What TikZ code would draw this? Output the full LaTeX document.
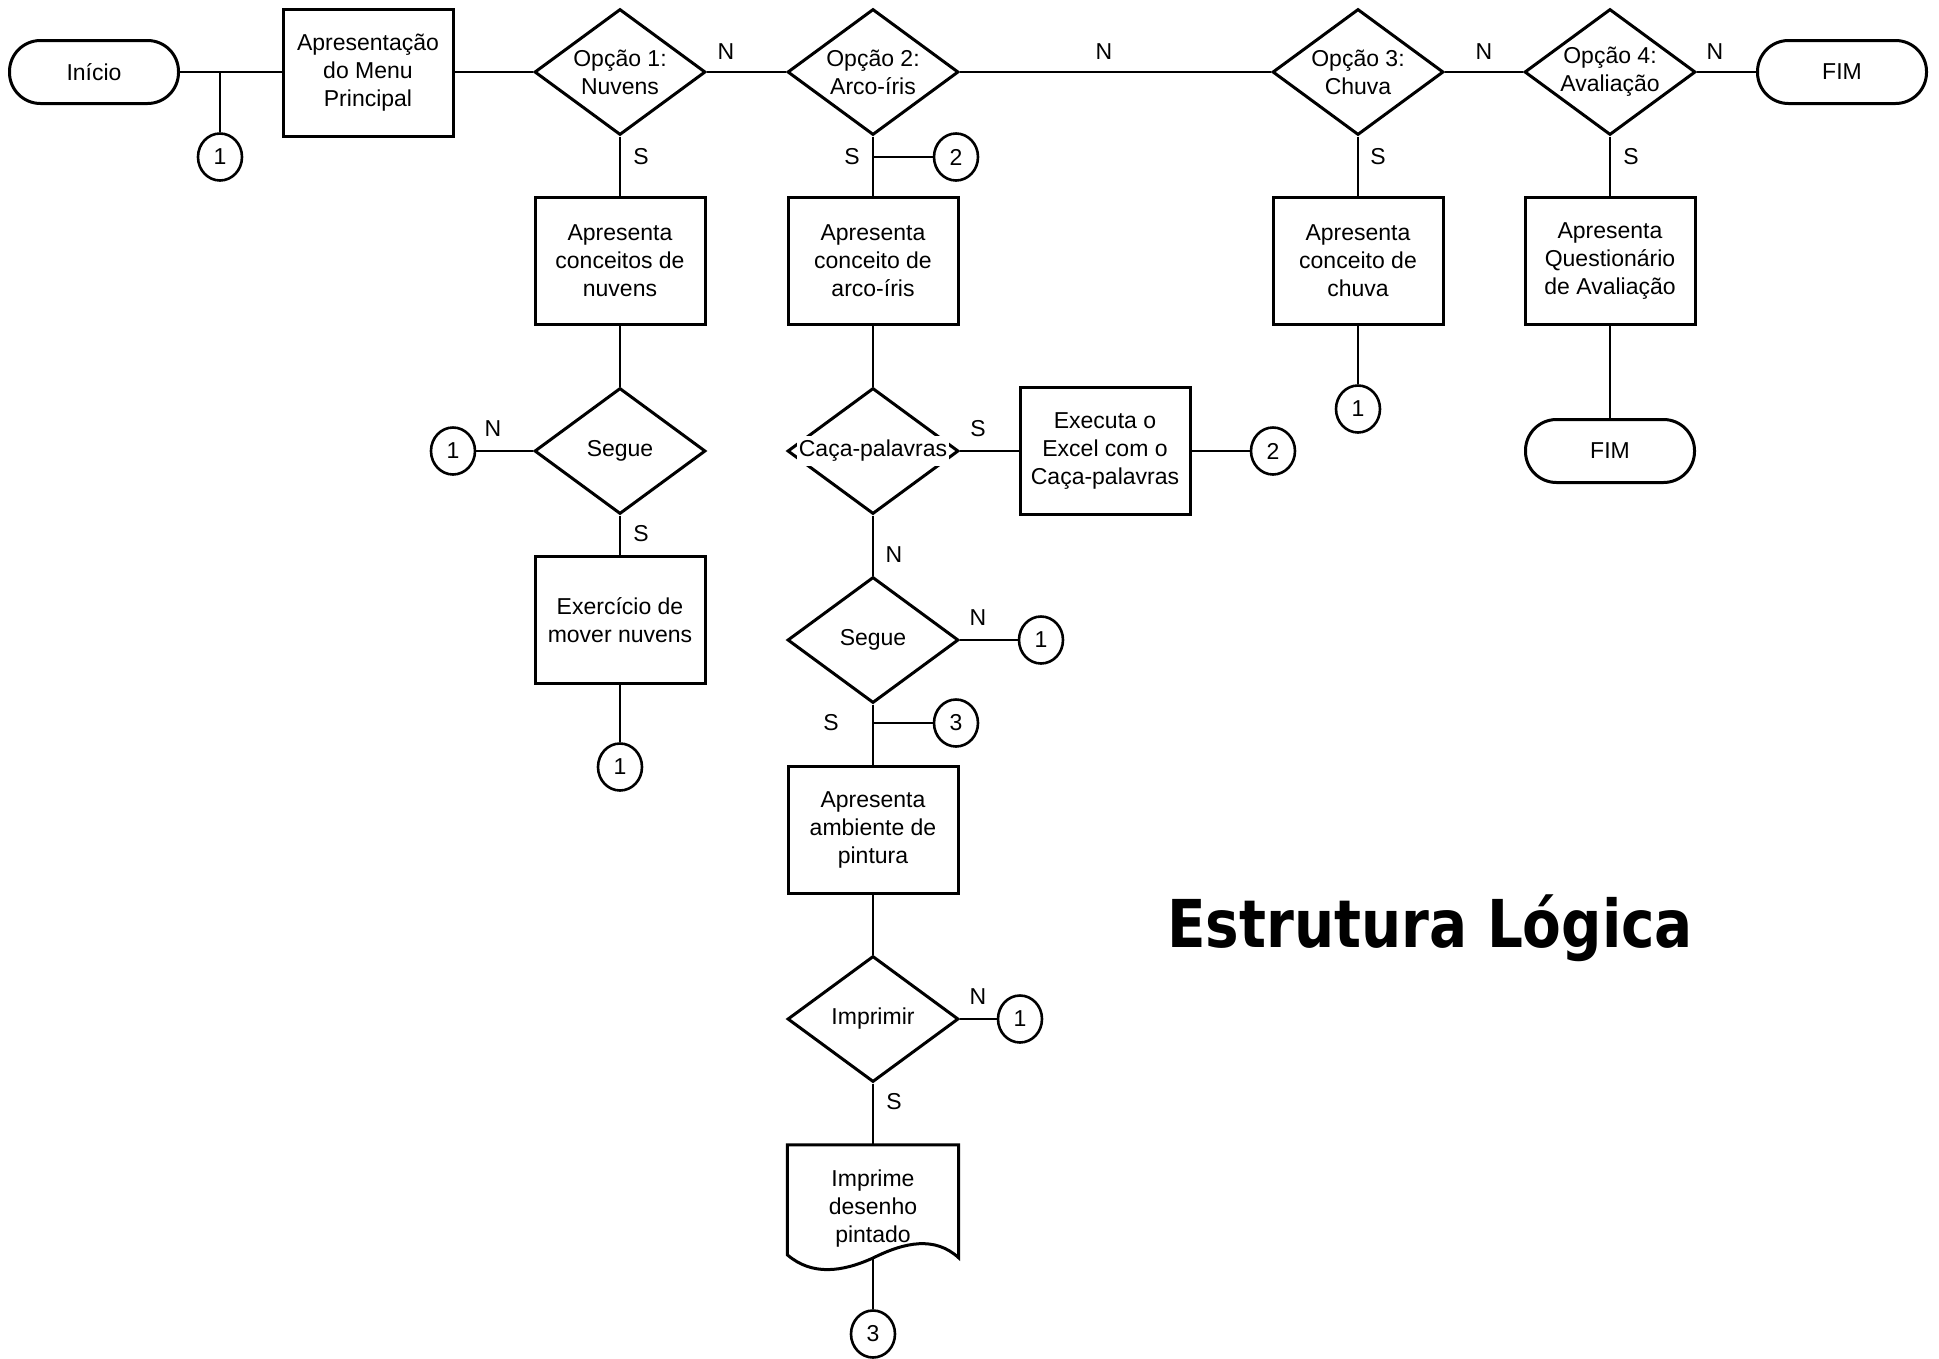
\documentclass[tikz,border=0pt]{standalone}
\usepackage{fontspec}
\setmainfont{Liberation Sans}
\newfontfamily\titlefont{DejaVu Sans}[FakeStretch=0.855]
\usetikzlibrary{shapes.geometric,calc}
\begin{document}
\begin{tikzpicture}[x=1pt,y=-1pt,font=\fontsize{23}{28}\selectfont,
  box/.style={draw, line width=3pt, minimum width=170pt, minimum height=127pt, align=center, inner sep=0pt},
  dia/.style={draw, diamond, line width=3pt, minimum width=171pt, minimum height=126pt, inner sep=0pt},
  term/.style={draw, rounded corners=31pt, line width=3pt, minimum width=169pt, minimum height=63pt, inner sep=0pt},
  conn/.style={draw, ellipse, line width=2.6pt, minimum width=44pt, minimum height=47pt, inner sep=0pt},
  txt/.style={align=center, inner sep=0pt},
  lbl/.style={inner sep=0pt},
  wire/.style={line width=1.3pt}]
\useasboundingbox (0,0) rectangle (1939,1358);
\fill[white] (0,0) rectangle (1939,1358);

% top row
\node[term] (ini) at (94,72) {Início};
\node[box] (menu) at (368,73) {Apresentação\\do Menu\\Principal};
\node[dia] (o1) at (620,72) {}; \node[txt] (o1t) at (o1) {Opção 1:\\Nuvens};
\node[dia] (o2) at (873,72) {}; \node[txt] (o2t) at (o2) {Opção 2:\\Arco-íris};
\node[dia] (o3) at (1358,72) {}; \node[txt] (o3t) at (o3) {Opção 3:\\Chuva};
\node[dia] (o4) at (1610,72) {}; \node[txt] (o4t) at (o4) {Opção 4:\\Avaliação};
\node[term] (fim1) at (1842,72) {FIM};
\coordinate (jn1) at (220,72);
\node[conn] (c1a) at (220,157) {1};

% second row
\node[box] (b1) at (620,261) {Apresenta\\conceitos de\\nuvens};
\node[box] (b2) at (873,261) {Apresenta\\conceito de\\arco-íris};
\node[box] (b3) at (1358,261) {Apresenta\\conceito de\\chuva};
\node[box] (b4) at (1610,261) {Apresenta\\Questionário\\de Avaliação\vphantom{p}};
\coordinate (jn2) at (873,157);
\node[conn] (c2a) at (956,157) {2};
\node[conn] (c1b) at (1358,409) {1};
\node[term] (fim2) at (1610,451) {FIM};

% third row
\node[dia] (sg1) at (620,451) {}; \node[txt] (sg1t) at (sg1) {Segue};
\node[conn] (c1c) at (453,451) {1};
\node[dia] (caca) at (873,451) {};
\node[txt, fill=white, inner xsep=2pt, inner ysep=4pt] (cacat) at (caca) {Caça-palavras};
\node[box] (exe) at (1105,451) {Executa o\\Excel com o\\Caça-palavras};
\node[conn] (c2b) at (1273,451) {2};

% column 1 lower
\node[box] (ex1) at (620,620) {Exercício de\\mover nuvens};
\node[conn] (c1d) at (620,767) {1};

% column 2 lower
\node[dia] (sg2) at (873,640) {}; \node[txt] (sg2t) at (sg2) {Segue};
\node[conn] (c1e) at (1041,640) {1};
\coordinate (jn3) at (873,723);
\node[conn] (c3a) at (956,723) {3};
\node[box] (pin) at (873,830) {Apresenta\\ambiente de\\pintura};
\node[dia] (impd) at (873,1019) {}; \node[txt] (impdt) at (impd) {Imprimir};
\node[conn] (c1f) at (1020,1019) {1};
\node[txt, minimum width=171pt, minimum height=126pt] (doc) at (873,1209) {Imprime\\desenho\\pintado};
\coordinate (impb) at (873,1258);
\draw[line width=3pt, line join=miter]
  ($(doc.north west)+(0,-1)$) -- ($(doc.north east)+(0,-1)$) -- ($(doc.north east)+(0,112)$)
  .. controls (935,1236) and (905,1242) .. (impb)
  .. controls (842,1272) and (812,1276) .. ($(doc.north west)+(0,109)$) -- cycle;
\node[conn] (c3b) at (873,1334) {3};

% labels
\node[lbl] (n1) at (726,52) {N};
\node[lbl] (n2) at (1104,52) {N};
\node[lbl] (n3) at (1484,52) {N};
\node[lbl] (n4) at (1715,52) {N};
\node[lbl] (s1) at (641,157) {S};
\node[lbl] (s2) at (852,157) {S};
\node[lbl] (s3) at (1378,157) {S};
\node[lbl] (s4) at (1631,157) {S};
\node[lbl] (n5) at (493,429) {N};
\node[lbl] (s5) at (978,429) {S};
\node[lbl] (s6) at (641,534) {S};
\node[lbl] (n6) at (894,555) {N};
\node[lbl] (n7) at (978,618) {N};
\node[lbl] (s7) at (831,723) {S};
\node[lbl] (n8) at (978,997) {N};
\node[lbl] (s8) at (894,1102) {S};

% title
\node[anchor=base west, inner sep=0pt, font=\titlefont\bfseries\fontsize{66}{70}\selectfont] (title) at (1167,947) {Estrutura Lógica};

% connectors
\draw[wire] (ini.east) -- (jn1) -- (menu.west |- jn1);
\draw[wire] (jn1) -- (c1a.north);
\draw[wire] (menu.east |- o1.west) -- (o1.west);
\draw[wire] (o1.east) -- (o2.west);
\draw[wire] (o2.east) -- (o3.west);
\draw[wire] (o3.east) -- (o4.west);
\draw[wire] (o4.east) -- (fim1.west);
\draw[wire] (o1.south) -- (b1.north);
\draw[wire] (b1.south) -- (sg1.north);
\draw[wire] (sg1.west) -- (c1c.east);
\draw[wire] (sg1.south) -- (ex1.north);
\draw[wire] (ex1.south) -- (c1d.north);
\draw[wire] (o2.south) -- (b2.north);
\draw[wire] (jn2) -- (c2a.west);
\draw[wire] (b2.south) -- (caca.north);
\draw[wire] (caca.east) -- (exe.west);
\draw[wire] (exe.east) -- (c2b.west);
\draw[wire] (caca.south) -- (sg2.north);
\draw[wire] (sg2.east) -- (c1e.west);
\draw[wire] (sg2.south) -- (pin.north);
\draw[wire] (jn3) -- (c3a.west);
\draw[wire] (pin.south) -- (impd.north);
\draw[wire] (impd.east) -- (c1f.west);
\draw[wire] (impd.south) -- (doc.north);
\draw[wire] (impb) -- (c3b.north);
\draw[wire] (o3.south) -- (b3.north);
\draw[wire] (b3.south) -- (c1b.north);
\draw[wire] (o4.south) -- (b4.north);
\draw[wire] (b4.south) -- (fim2.north);
\end{tikzpicture}
\end{document}
